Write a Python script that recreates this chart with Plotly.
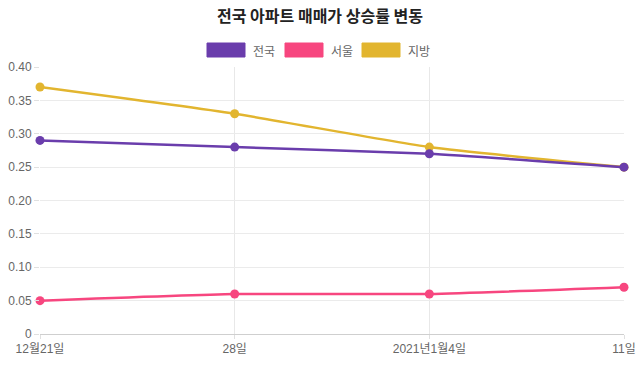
import plotly.graph_objects as go

categories = ["12월21일", "28일", "2021년1월4일", "11일"]
series_names = ["전국", "서울", "지방"]
nation = [0.29, 0.28, 0.27, 0.25]
seoul = [0.05, 0.06, 0.06, 0.07]
local = [0.37, 0.33, 0.28, 0.25]
y_ticks = [0, 0.05, 0.10, 0.15, 0.20, 0.25, 0.30, 0.35, 0.40]
y_ticktext = ["0", "0.05", "0.10", "0.15", "0.20", "0.25", "0.30", "0.35", "0.40"]

colors = ["#6a3dac", "#f7467f", "#e2b52f"]
values = [nation, seoul, local]

W, H = 640, 366
L, R, T, B = 40, 16, 67, 32
pw, ph = W - L - R, H - T - B

def px_x(px):
    return (px - L) / pw

def px_y(py):
    return (H - B - py) / ph

fig = go.Figure()
xs = list(range(len(categories)))
for idx in [2, 1, 0]:
    fig.add_trace(go.Scatter(
        x=xs, y=values[idx], name=series_names[idx],
        mode="lines+markers",
        line=dict(color=colors[idx], width=2.5, shape="spline", smoothing=0.5),
        marker=dict(color=colors[idx], size=9),
        showlegend=False, cliponaxis=False,
    ))

# custom legend (Chart.js style boxes)
box_left = [207, 285, 362]
for i, name in enumerate(series_names):
    x0 = box_left[i]
    fig.add_shape(type="rect", xref="paper", yref="paper",
                  x0=px_x(x0), x1=px_x(x0 + 38), y0=px_y(57), y1=px_y(43),
                  fillcolor=colors[i], line=dict(color=colors[i], width=1))
    fig.add_annotation(xref="paper", yref="paper", x=px_x(x0 + 44), y=px_y(50),
                       text=name, showarrow=False, xanchor="left", yanchor="middle",
                       font=dict(size=12, color="#666", family="Noto Sans CJK KR"))

fig.update_layout(
    width=W, height=H,
    margin=dict(l=L, r=R, t=T, b=B, autoexpand=False),
    paper_bgcolor="white", plot_bgcolor="white",
    title=dict(text="<b>전국 아파트 매매가 상승률 변동</b>", x=0.5, xanchor="center",
               y=1 - 16 / H, yanchor="middle",
               font=dict(size=16, color="#222", family="Noto Sans CJK KR")),
    font=dict(family="Liberation Sans, Noto Sans CJK KR", size=12, color="#666"),
    xaxis=dict(range=[0, 3], tickvals=xs, ticktext=categories,
               showgrid=True, gridcolor="#e8e8e8", zeroline=False,
               showline=False, ticks="outside", ticklen=4, tickcolor="#e0e0e0",
               tickfont=dict(size=12, color="#666")),
    yaxis=dict(range=[0, 0.4], tickvals=y_ticks, ticktext=y_ticktext,
               showgrid=True, gridcolor="#ebebeb", zeroline=True,
               zerolinecolor="#cfcfcf", zerolinewidth=1,
               ticks="outside", ticklen=5, tickcolor="#e0e0e0",
               tickfont=dict(size=12, color="#666")),
)

fig.write_html("out.html", config={"displayModeBar": False},
               post_script="document.body.style.margin='0';document.body.style.overflow='hidden';")
